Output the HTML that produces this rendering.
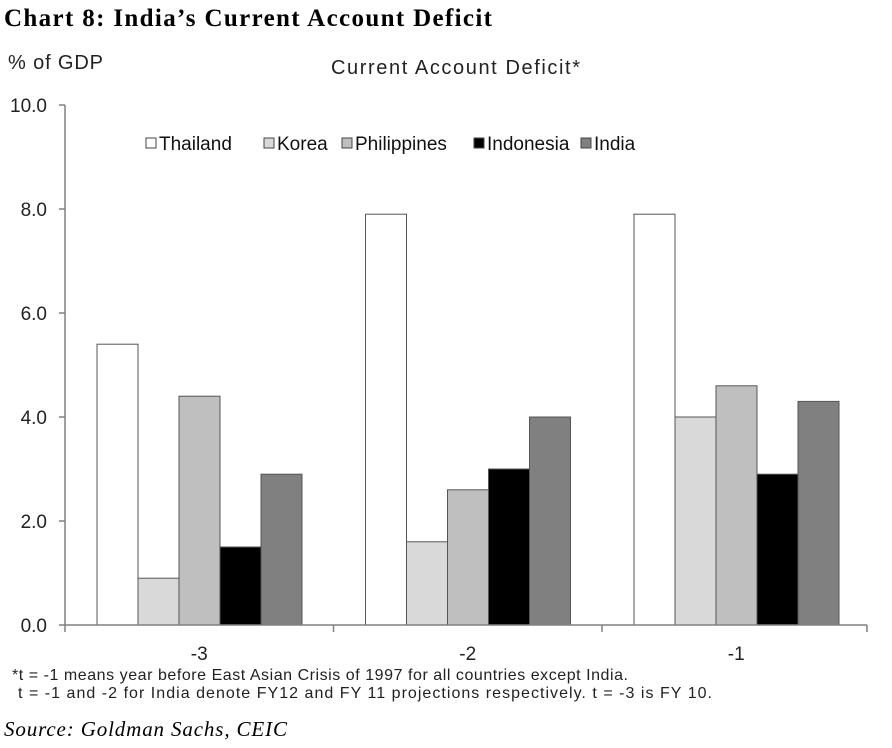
<!DOCTYPE html>
<html><head><meta charset="utf-8"><style>
body{margin:0;background:#fff;width:892px;height:748px;overflow:hidden}
svg{display:block}
</style></head><body>
<svg width="892" height="748" font-family="Liberation Sans, Arial, sans-serif">
<text x="4" y="26" font-family="Liberation Serif, serif" font-weight="bold" font-size="25" textLength="488" lengthAdjust="spacing">Chart 8:  India’s Current Account Deficit</text>
<text x="8" y="69" font-size="20" fill="#222" textLength="95">% of GDP</text>
<text x="331" y="74" font-size="20" fill="#222" textLength="249">Current Account Deficit*</text>
<g id="yaxis"></g><g id="bars"></g><g id="xaxis"></g>
<g id="legend"></g>
<text x="12" y="680" font-size="16" fill="#222" textLength="616">*t = -1 means year before East Asian Crisis of 1997 for all countries except India.</text>
<text x="18" y="698" font-size="16" fill="#222" textLength="694">t = -1 and -2 for India denote  FY12 and FY 11 projections respectively. t = -3 is FY 10.</text>
<text x="4" y="736" font-family="Liberation Serif, serif" font-style="italic" font-size="21" textLength="283">Source: Goldman Sachs, CEIC</text>
</svg>
<script>
const categories=["-3","-2","-1"];
const seriesNames=["Thailand","Korea","Philippines","Indonesia","India"];
const thailand=[5.4,7.9,7.9];
const korea=[0.9,1.6,4.0];
const philippines=[4.4,2.6,4.6];
const indonesia=[1.5,3.0,2.9];
const india=[2.9,4.0,4.3];
const yTicks=[0,2,4,6,8,10];
const colors=["#ffffff","#d9d9d9","#bfbfbf","#000000","#808080"];
const series=[thailand,korea,philippines,indonesia,india];
const NS="http://www.w3.org/2000/svg";
const X0=65,X1=867,Y0=625,Y1=105,ymax=10;
const y=v=>Y0-(v/ymax)*(Y0-Y1);
const gw=268.5, bw=41, off=32;
function mk(t,a,p){const e=document.createElementNS(NS,t);for(const k in a)e.setAttribute(k,a[k]);p.appendChild(e);return e;}
const ya=document.getElementById('yaxis');
const ax=mk('line',{x1:X0,y1:Y1,x2:X0,y2:Y0,stroke:'#808080','stroke-width':1.5},ya);

yTicks.forEach(t=>{
 const l=mk('line',{x1:X0-6,x2:X0,y1:y(t),y2:y(t),stroke:'#808080','stroke-width':1.5},ya);
 
 const tx=mk('text',{x:47,y:y(t)+7,'text-anchor':'end','font-size':19,fill:'#222'},ya);
 tx.textContent=t.toFixed(1);
 
});
const bg=document.getElementById('bars');
categories.forEach((c,i)=>{
 series.forEach((s,j)=>{
  const x=X0+gw*i+off+bw*j;
  const r=mk('rect',{x:x,y:y(s[i]),width:bw,height:Y0-y(s[i]),fill:colors[j],stroke:'#555','stroke-width':1},bg);
  
  
 });
});
const xa=document.getElementById('xaxis');
const bl=mk('line',{x1:X0,y1:Y0,x2:X1,y2:Y0,stroke:'#808080','stroke-width':1.5},xa);

for(let i=0;i<=categories.length;i++){
 const tk=mk('line',{x1:Math.min(X0+gw*i,X1),x2:Math.min(X0+gw*i,X1),y1:Y0,y2:Y0+7,stroke:'#808080','stroke-width':1.5},xa);
 
}
categories.forEach((c,i)=>{
 const tx=mk('text',{x:X0+gw*(i+0.5),y:Y0+35,'text-anchor':'middle','font-size':19,fill:'#222'},xa);
 tx.textContent=c;
 
});
const lg=document.getElementById('legend');
const lx=[146,264,342,474,581];
seriesNames.forEach((n,j)=>{
 const g=mk('g',{},lg);
 
 mk('rect',{x:lx[j],y:138,width:10,height:10,fill:colors[j],stroke:'#444','stroke-width':1},g);
 const t=mk('text',{x:lx[j]+13,y:150,'font-size':19,fill:'#111'},g);t.textContent=n;
});
</script>
</body></html>
